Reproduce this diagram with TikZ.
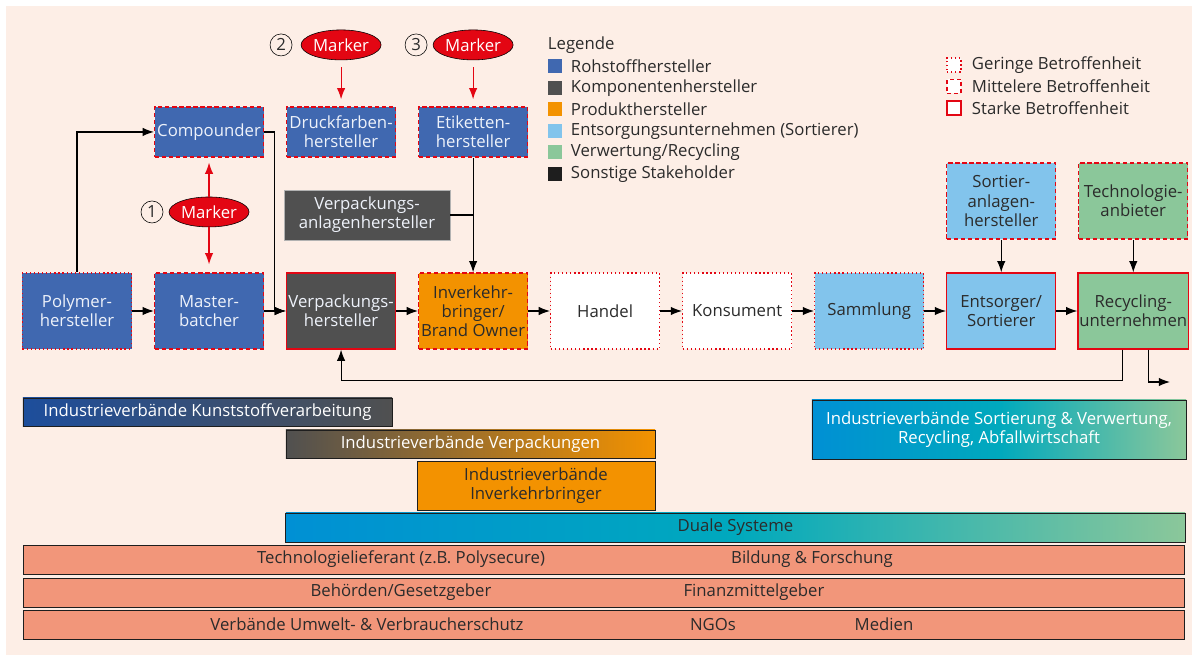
\documentclass[tikz,border=0pt]{standalone}
\usepackage{fontspec}
\setmainfont{Open Sans}
\usetikzlibrary{shapes,arrows.meta}

\definecolor{bgpeach}{HTML}{FDEEE6}
\definecolor{cRoh}{HTML}{4068B0}
\definecolor{cKomp}{HTML}{505050}
\definecolor{cProd}{HTML}{F39200}
\definecolor{cEnts}{HTML}{82C4EC}
\definecolor{cVerw}{HTML}{8BC79A}
\definecolor{cSonst}{HTML}{1E1E1E}
\definecolor{cRed}{HTML}{E30613}
\definecolor{cSalmon}{HTML}{F2967A}
\definecolor{cDuBlue}{HTML}{0090D4}
\definecolor{cDuTeal}{HTML}{00A9BD}
\definecolor{cKuBlue}{HTML}{1D4E9C}
\definecolor{cTxt}{HTML}{2B2B2B}
\definecolor{cLight}{HTML}{EEF2FA}

\begin{document}
\begin{tikzpicture}[x=0.025cm,y=0.025cm,node distance=3.3cm,
	font=\fontsize{11.9}{13.6}\selectfont,
	box/.style={rectangle,minimum width=2.725cm,minimum height=1.9cm,inner sep=1pt,align=center},
	flat/.style={minimum height=1.25cm},
	roh/.style={box,fill=cRoh,text=cLight},
	komp/.style={box,fill=cKomp,text=cLight},
	prod/.style={box,fill=cProd,text=cTxt},
	ents/.style={box,fill=cEnts,text=cTxt},
	verw/.style={box,fill=cVerw,text=cTxt},
	plain/.style={box,fill=white,text=cTxt},
	gering/.style={draw=cRed,line width=0.9pt,dash pattern=on 0.9pt off 2pt},
	mittel/.style={draw=cRed,line width=0.9pt,dash pattern=on 3pt off 2pt},
	stark/.style={draw=cRed,line width=0.9pt},
	marker/.style={ellipse,fill=cRed,draw=black,thin,text=white,minimum width=2cm,minimum height=0.75cm,inner sep=0pt},
	num/.style={circle,draw=black,thin,minimum size=0.55cm,inner sep=0pt,text=cTxt},
	line/.style={draw,line width=0.8pt,-{Latex[length=8pt,width=6pt]}},
	redline/.style={draw=cRed,line width=0.8pt,-{Latex[length=8pt,width=6pt]}},
	bar/.style={rectangle,draw=cSonst,line width=0.6pt,minimum height=0.7cm,inner sep=1pt,align=center},
	legsq/.style={rectangle,minimum size=0.35cm,inner sep=0pt}]
\fill[bgpeach] (6,4) rectangle (1192,653);
\useasboundingbox (0,0) rectangle (1192,659);

% Wertschoepfungskette
\node[roh,gering] (poly) at (77,348) {Polymer-\\hersteller};
\node[roh,mittel,right of=poly] (mb) {Master-\\batcher};
\node[komp,stark,right of=mb] (verp) {Verpackungs-\\hersteller};
\node[prod,mittel,right of=verp] (inv) {Inverkehr-\\bringer/\\Brand Owner};
\node[plain,gering,right of=inv] (handel) {Handel};
\node[plain,gering,right of=handel] (kons) {Konsument};
\node[ents,gering,right of=kons] (samm) {Sammlung};
\node[ents,stark,right of=samm] (sort) {Entsorger/\\Sortierer};
\node[verw,stark,right of=sort] (recy) {Recycling-\\unternehmen};

% Zulieferer
\node[node distance=4.475cm,above of=mb,roh,mittel,flat] (comp) {Compounder};
\node[node distance=4.475cm,above of=verp,roh,mittel,flat] (druck) {Druckfarben-\\hersteller};
\node[node distance=4.475cm,above of=inv,roh,mittel,flat] (etik) {Etiketten-\\hersteller};
\node[komp,flat,draw=gray!60,minimum width=4.15cm] (vanl) at (367,444) {Verpackungs-\\anlagenhersteller};
\node[node distance=2.75cm,above of=sort,ents,mittel] (sortanl) {Sortier-\\anlagen-\\hersteller};
\node[node distance=2.75cm,above of=recy,verw,mittel] (techn) {Technologie-\\anbieter};

% Marker
\node[node distance=2cm,below of=comp,marker] (mk1) {Marker};
\node[node distance=2.175cm,above of=druck,marker] (mk2) {Marker};
\node[node distance=2.175cm,above of=etik,marker] (mk3) {Marker};
\node[node distance=1.425cm,left of=mk1,num] (n1) {1};
\node[node distance=1.5cm,left of=mk2,num] (n2) {2};
\node[node distance=1.425cm,left of=mk3,num] (n3) {3};
\path[redline,shorten >=0.125cm] (mk1) -- (comp);
\path[redline,shorten >=0.2cm] (mk1) -- (mb);
\path[redline,shorten <=0.175cm,shorten >=0.175cm] (mk2) -- (druck);
\path[redline,shorten <=0.175cm,shorten >=0.175cm] (mk3) -- (etik);

% Verbindungen
\foreach \a/\b in {poly/mb,mb/verp,verp/inv,inv/handel,handel/kons,kons/samm,samm/sort,sort/recy}
	\path[line] (\a) -- (\b);
\path[line] (poly) |- (comp);
\path[line] (comp.east) -| ([xshift=-0.275cm]verp.west) -- (verp.west);
\path[line] (etik) -- (inv);
\draw[line width=0.8pt] (vanl.east) -- (vanl.east -| etik.south);
\path[line] (sortanl) -- (sort);
\path[line] (techn) -- (recy);
\path[line] ([xshift=-0.275cm]recy.south) -- ++(0,-0.775cm) -| (verp.south);
\coordinate (exit) at (1170,277);
\path[line] ([xshift=0.375cm]recy.south) |- (exit);

% Legende
\node[anchor=west,text=cTxt] (leg) at (543,614) {Legende};
\foreach \c/\t [count=\i] in {cRoh/Rohstoffhersteller,cKomp/Komponentenhersteller,cProd/Produkthersteller,cEnts/{Entsorgungsunternehmen (Sortierer)},cVerw/{Verwertung/Recycling},cSonst/{Sonstige Stakeholder}}{
	\node[legsq,fill=\c] (lsq\i) at (555,614-21.5*\i) {};
	\node[anchor=west,text=cTxt] (ltx\i) at (566,614-21.5*\i) {\t};
}
\foreach \s/\t [count=\i] in {gering/{Geringe Betroffenheit},mittel/{Mittelere Betroffenheit},stark/{Starke Betroffenheit}}{
	\node[legsq,fill=white,\s] (bsq\i) at (954,615.5-21.5*\i) {};
	\node[anchor=west,text=cTxt] (btx\i) at (967,615.5-21.5*\i) {\t};
}

% Stakeholder-Balken
\node[bar,left color=cKuBlue,right color=cKomp,text=white,minimum width=9.225cm] (ivkunst) at (207.5,247) {Industrieverbände Kunststoffverarbeitung};
\node[bar,left color=cKomp,right color=cProd,text=white,minimum width=9.225cm] (ivverp) at (470.5,215) {Industrieverbände Verpackungen};
\node[bar,fill=cProd,text=cTxt,minimum width=5.95cm,minimum height=1.225cm] (ivinv) at (536,173.5) {Industrieverbände\\Inverkehrbringer};
\node[bar,left color=cDuBlue,right color=cVerw,middle color=cDuTeal,text=white,minimum width=9.35cm,minimum height=1.475cm] (ivsort) at (999,229.5) {Industrieverbände Sortierung \& Verwertung,\\Recycling, Abfallwirtschaft};
\node[bar,left color=cDuBlue,right color=cVerw,middle color=cDuTeal,text=cTxt,minimum width=22.475cm,minimum height=0.725cm] (duale) at (735.5,131.5) {Duale Systeme};
\node[bar,fill=cSalmon,minimum width=29cm,minimum height=0.725cm] (sk1) at (604,99.5) {};
\node[bar,fill=cSalmon,minimum width=29cm,minimum height=0.725cm] (sk2) at (604,66.5) {};
\node[bar,fill=cSalmon,minimum width=29cm,minimum height=0.725cm] (sk3) at (604,34.5) {};
\node[text=cTxt] (tlief) at (401,99.5) {Technologielieferant (z.B. Polysecure)};
\node[text=cTxt] (bild) at (812,99.5) {Bildung \& Forschung};
\node[text=cTxt] (behoe) at (401,66.5) {Behörden/Gesetzgeber};
\node[text=cTxt] (finanz) at (754,66.5) {Finanzmittelgeber};
\node[text=cTxt] (umwelt) at (367,34.5) {Verbände Umwelt- \& Verbraucherschutz};
\node[text=cTxt] (ngo) at (713,34.5) {NGOs};
\node[text=cTxt] (medien) at (884,34.5) {Medien};
\end{tikzpicture}
\end{document}
